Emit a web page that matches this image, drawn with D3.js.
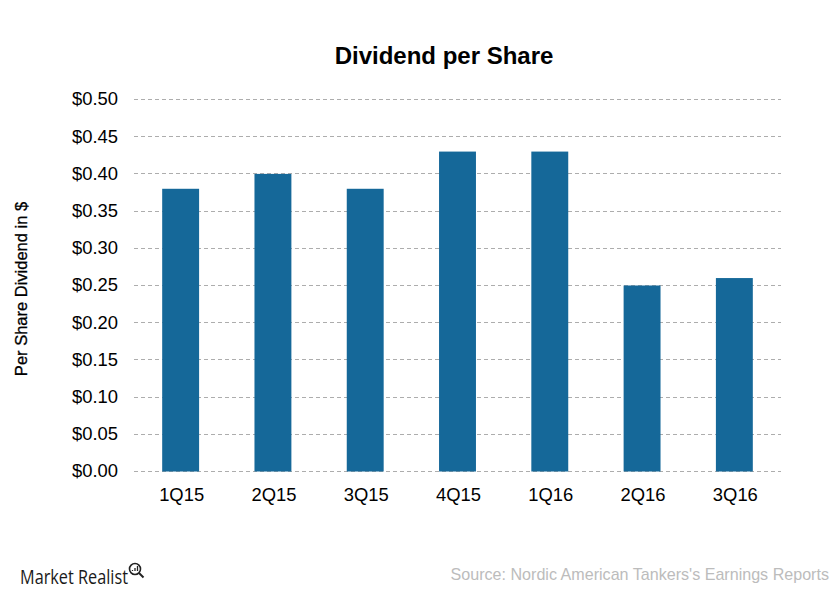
<!DOCTYPE html>
<html><head><meta charset="utf-8">
<script src="https://cdn.jsdelivr.net/npm/d3@7/dist/d3.min.js"></script>
<style>html,body{margin:0;padding:0;background:#fff}svg{display:block}text{font-family:"Liberation Sans",Arial,sans-serif}</style>
</head><body><svg id="c" width="840" height="600"></svg>
<script>
const categories=["1Q15","2Q15","3Q15","4Q15","1Q16","2Q16","3Q16"];
const dividends=[0.38,0.40,0.38,0.43,0.43,0.25,0.26];
const yTicks=[0,0.05,0.10,0.15,0.20,0.25,0.30,0.35,0.40,0.45,0.50];
const titleText="Dividend per Share";
const yLabel="Per Share Dividend in $";
const sourceText="Source: Nordic American Tankers's Earnings Reports";
const brandText="Market Realist";

const svg=d3.select("#c");
const x=d3.scaleBand().domain(categories).range([134.5,780.5]).paddingInner(0.6).paddingOuter(0.3);
const y=d3.scaleLinear().domain([0,0.5]).range([471.5,99.5]);

svg.append("text").attr("x",444).attr("y",64).attr("text-anchor","middle")
 .attr("font-size",24).attr("font-weight","bold").attr("fill","#000").text(titleText);

const yAxis=d3.axisLeft(y).tickValues(yTicks).tickFormat(d3.format("$.2f")).tickSize(0).tickPadding(16);
const gy=svg.append("g").attr("transform","translate(134,-0.5)").call(yAxis);
gy.select(".domain").remove();
gy.selectAll("text").attr("font-size",18.4).attr("fill","#000").style("font-family",'"Liberation Sans",Arial,sans-serif');

svg.append("g").selectAll("line").data(yTicks).join("line")
 .attr("x1",134).attr("x2",781).attr("y1",d=>Math.floor(y(d))+0.5).attr("y2",d=>Math.floor(y(d))+0.5)
 .attr("stroke","#adadad").attr("stroke-width",1).attr("stroke-dasharray","4 3");

svg.append("g").selectAll("rect").data(dividends).join("rect")
 .attr("x",(d,i)=>x(categories[i])).attr("width",x.bandwidth())
 .attr("y",d=>y(d)).attr("height",d=>y(0)-y(d)).attr("fill","#156899");

const xAxis=d3.axisBottom(x).tickSize(0).tickPadding(16);
const gx=svg.append("g").attr("transform","translate(1,471.5)").call(xAxis);
gx.select(".domain").remove();
gx.selectAll("text").attr("font-size",18.4).attr("fill","#000").style("font-family",'"Liberation Sans",Arial,sans-serif');

svg.append("text").attr("transform","translate(27,289) rotate(-90)").attr("text-anchor","middle")
 .attr("font-size",16.5).attr("stroke","#000").attr("stroke-width",0.3).attr("fill","#000").text(yLabel);

svg.append("text").attr("x",829).attr("y",580).attr("text-anchor","end")
 .attr("font-size",16.1).attr("fill","#bcbcbc").text(sourceText);

svg.append("text").attr("x",20).attr("y",584).attr("font-size",20).attr("fill","#1a1a1a")
 .attr("textLength",108).attr("lengthAdjust","spacingAndGlyphs").style("font-family",'"Open Sans",sans-serif').text(brandText);

const icon=svg.append("g").attr("transform","translate(135,569)").attr("fill","none").attr("stroke","#222");
icon.append("circle").attr("r",5.5).attr("stroke-width",1.6);
icon.append("line").attr("x1",4).attr("y1",4).attr("x2",8.5).attr("y2",8.5).attr("stroke-width",2);
icon.append("path").attr("d","M-2.5,2V1M0,2V-1M2.5,2V-3").attr("stroke-width",1.3);
</script></body></html>
